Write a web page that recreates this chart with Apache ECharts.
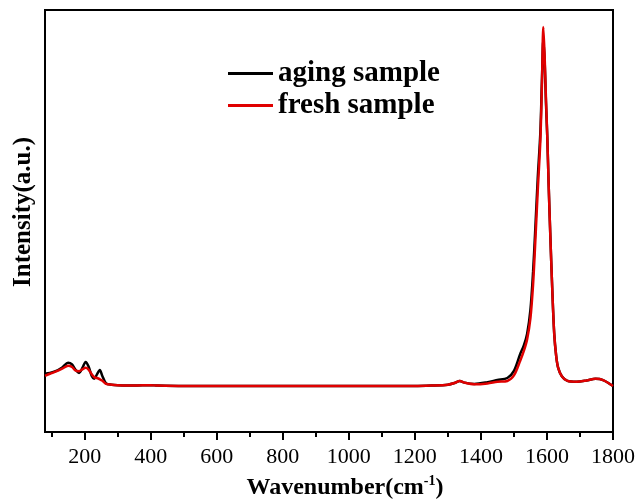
<!DOCTYPE html>
<html>
<head>
<meta charset="utf-8">
<script src="https://cdn.jsdelivr.net/npm/echarts@6/dist/echarts.min.js"></script>
<style>
  html, body { margin: 0; padding: 0; background: #fff; }
  #chart { width: 638px; height: 500px; }
</style>
</head>
<body>
<div id="chart"></div>
<script>
// wavenumber (cm-1) sample points
var wavenumber = [80, 95, 112, 132, 150, 162, 172, 183, 194, 203, 212, 222, 229, 237, 246, 253, 265, 282, 300, 350,
  400, 420, 500, 600, 700, 800, 900, 1000, 1100, 1200, 1250, 1300, 1320, 1336, 1350, 1380, 1420, 1450, 1480, 1500,
  1519, 1530, 1540, 1550, 1558, 1564, 1572, 1580, 1585, 1589, 1593, 1597, 1601, 1605, 1610, 1616, 1622, 1628, 1634,
  1645, 1662, 1690, 1720, 1747, 1770, 1800];
// intensity, arbitrary units
var aging = [13.8, 14.0, 14.4, 15.3, 16.4, 16.0, 14.8, 14.0, 15.3, 16.6, 15.5, 13.2, 12.6, 13.6, 14.7, 13.4, 11.5, 11.2, 11.1, 11.0,
  11.1, 11.0, 10.9, 10.9, 10.9, 10.9, 10.9, 10.9, 10.9, 10.9, 11.0, 11.2, 11.6, 12.1, 11.7, 11.4, 11.8, 12.3, 12.8, 14.5,
  18.5, 20.5, 23.3, 29, 38, 47, 60, 71, 84, 93, 88, 78, 70, 59, 47, 34, 23.3, 18, 15.2,
  13.2, 12.1, 11.9, 12.2, 12.6, 12.3, 10.9];
var fresh = [13.3, 13.8, 14.3, 15.0, 15.7, 15.4, 14.6, 14.4, 14.9, 15.2, 14.8, 13.6, 13.0, 12.8, 12.5, 12.2, 11.4, 11.2, 11.1, 11.0,
  11.1, 11.0, 10.9, 10.9, 10.9, 10.9, 10.9, 10.9, 10.9, 10.9, 11.0, 11.2, 11.6, 12.1, 11.7, 11.3, 11.5, 11.9, 12.1, 13.4,
  16.9, 19.2, 22, 27, 35, 44, 57, 69, 83, 96, 89, 79, 70, 59, 47, 34, 23.3, 18, 15.2,
  13.2, 12.1, 11.9, 12.2, 12.6, 12.3, 10.9];
var majorTicks = [200, 400, 600, 800, 1000, 1200, 1400, 1600, 1800];
var minorTicks = [100, 300, 500, 700, 900, 1100, 1300, 1500, 1700];

function pairs(ys) {
  return wavenumber.map(function (x, i) { return [x, ys[i]]; });
}

var serif = '"Liberation Serif", "DejaVu Serif", serif';
var chart = echarts.init(document.getElementById('chart'));
chart.setOption({
  animation: false,
  grid: {
    left: 45, right: 25, top: 10, bottom: 68,
    outerBoundsMode: 'none',
    show: true, borderColor: '#000', borderWidth: 2
  },
  legend: {
    orient: 'vertical',
    left: 223, top: 54,
    icon: 'rect',
    itemWidth: 45, itemHeight: 3, itemGap: 3,
    textStyle: { fontFamily: serif, fontWeight: 'bold', fontSize: 29, color: '#000' },
    data: ['aging sample', 'fresh sample']
  },
  xAxis: [{
    type: 'value', min: 80, max: 1800,
    splitLine: { show: false },
    axisLine: { lineStyle: { color: '#000', width: 2 } },
    axisTick: { customValues: majorTicks, length: 8, lineStyle: { color: '#000', width: 2 } },
    axisLabel: {
      customValues: majorTicks, margin: 14, fontFamily: serif, fontSize: 22, color: '#000',
      formatter: function (v) { return String(v); }
    },
    name: '{a|Wavenumber(cm}{s|-1}{a|)}',
    nameLocation: 'middle', nameGap: 42,
    nameTextStyle: {
      padding: [0, 0, 0, 32],
      rich: {
        a: { fontFamily: serif, fontWeight: 'bold', fontSize: 24, color: '#000' },
        s: { fontFamily: serif, fontWeight: 'bold', fontSize: 14, color: '#000', verticalAlign: 'top', padding: [0, 0, 14, 0] }
      }
    }
  }, {
    type: 'value', min: 80, max: 1800, position: 'bottom',
    splitLine: { show: false },
    axisLine: { show: false },
    axisTick: { customValues: minorTicks, length: 5, lineStyle: { color: '#000', width: 2 } },
    axisLabel: { show: false }
  }],
  yAxis: {
    type: 'value', min: 0, max: 100,
    splitLine: { show: false },
    axisLine: { lineStyle: { color: '#000', width: 2 } },
    axisTick: { show: false },
    axisLabel: { show: false },
    name: 'Intensity(a.u.)',
    nameLocation: 'middle', nameGap: 9,
    nameTextStyle: { fontFamily: serif, fontWeight: 'bold', fontSize: 25, color: '#000', padding: [0, 0, 0, 18] }
  },
  series: [{
    name: 'aging sample', type: 'line', symbol: 'none', smooth: 0.3,
    lineStyle: { color: '#000', width: 2.5 }, itemStyle: { color: '#000' },
    data: pairs(aging)
  }, {
    name: 'fresh sample', type: 'line', symbol: 'none', smooth: 0.3,
    lineStyle: { color: '#e00000', width: 2.5 }, itemStyle: { color: '#e00000' },
    data: pairs(fresh)
  }]
});
</script>
</body>
</html>
